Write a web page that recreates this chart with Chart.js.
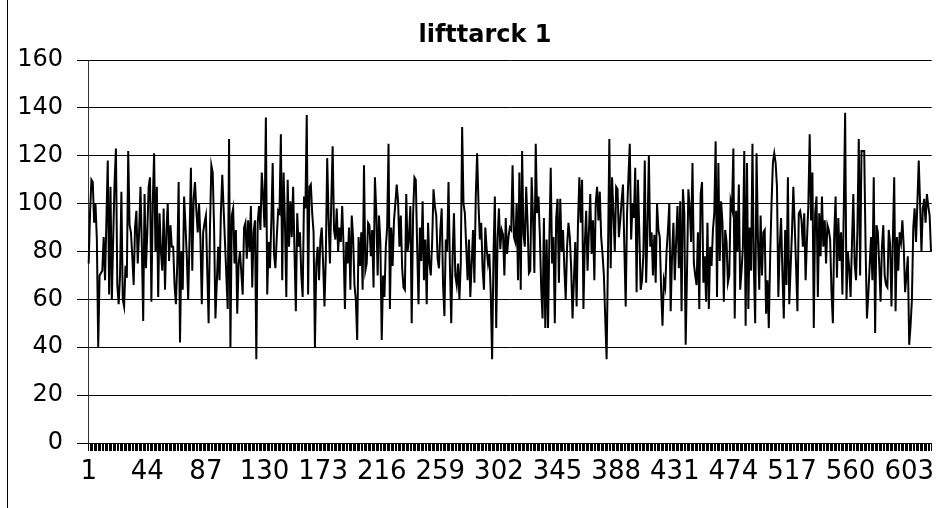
<!DOCTYPE html>
<html><head><meta charset="utf-8">
<script src="https://cdn.jsdelivr.net/npm/chart.js@4"></script>
<style>html,body{margin:0;padding:0;background:#fff;overflow:hidden}
#wrap{position:relative;width:937px;height:508px}
canvas{display:block}</style></head>
<body><div id="wrap"><canvas id="c" width="937" height="508"></canvas></div>
<script>
const chartTitle = 'lifttarck 1';
const liftValues = [
75,96,110,109,92,100,85,40,70,71,72,86,68,93,118,62,107,60,86,109,123,66,58,70,105,60,57,74,69,122,91,88,78,66,90,97,75,88,107,82,51,104,73,88,107,111,59,100,121,80,107,61,96,80,72,98,64,88,100,76,91,82,
82,66,58,75,109,42,80,64,103,91,78,60,85,115,72,102,109,97,88,100,85,58,88,92,95,72,50,90,116,113,90,52,67,82,68,96,112,98,84,70,56,127,40,95,98,75,89,54,75,80,71,62,90,92,77,93,80,99,65,88,93,35,
92,99,89,113,103,90,136,62,84,73,92,117,79,73,86,97,96,129,68,113,92,61,110,82,101,86,107,80,55,96,82,88,70,61,103,98,137,62,107,108,96,88,40,75,82,68,85,90,75,57,78,119,94,75,101,124,89,85,98,80,90,84,
99,82,56,84,75,90,64,95,86,66,60,43,86,74,88,64,116,72,75,92,91,78,89,65,111,97,70,95,84,43,70,61,82,90,125,56,90,74,93,100,108,101,82,95,73,65,64,104,80,86,99,50,95,111,110,82,58,90,76,101,68,85,
58,92,75,70,84,106,99,95,77,73,89,98,66,53,85,80,109,75,50,78,96,70,66,75,60,75,132,100,96,82,68,85,61,75,89,67,103,121,100,85,92,73,64,90,81,75,79,62,35,78,103,48,85,98,81,89,87,70,94,79,86,90,
89,116,86,84,100,68,113,64,122,87,82,107,92,71,72,111,94,71,125,96,103,87,65,52,94,48,85,48,85,115,75,86,50,94,102,67,102,80,89,73,60,82,92,86,73,52,68,84,57,92,111,92,110,56,83,97,72,88,104,79,93,68,
100,107,93,105,86,79,70,52,35,78,127,73,111,96,80,107,106,86,93,101,108,82,57,96,111,125,85,100,94,115,63,110,88,64,68,79,118,67,89,120,82,88,70,87,67,100,89,86,64,49,68,65,80,89,100,55,78,92,68,84,99,73,
101,55,106,96,41,72,106,98,84,117,75,70,66,88,56,104,109,67,78,59,92,56,82,74,89,96,126,61,117,76,101,92,59,89,84,67,70,101,98,123,52,97,80,108,64,72,82,122,49,117,56,90,72,125,74,50,121,86,64,95,70,88,
89,54,68,48,78,100,117,121,117,107,61,82,94,71,52,89,66,111,58,73,88,107,91,74,55,96,97,93,82,96,68,85,99,129,93,113,48,96,103,61,96,78,103,82,93,75,91,89,85,63,50,87,103,69,94,76,88,62,97,138,60,80,
73,61,83,104,75,68,89,127,70,122,122,122,82,52,62,74,86,68,111,46,91,88,75,59,82,91,70,66,65,89,83,57,85,111,55,86,72,88,84,93,82,63,70,78,41,49,60,90,98,84,100,118,100,80,98,102,92,104,99,95,80
];
const categories = liftValues.map((v, i) => String(i + 1));
const labelStep = 43;
const yMin = 0, yMax = 160, yStep = 20;

const deco = {
  id: 'deco',
  afterDraw(chart) {
    const ctx = chart.ctx;
    ctx.save();
    ctx.fillStyle = '#000';
    ctx.font = 'bold 24px "DejaVu Sans"';
    ctx.textAlign = 'center';
    ctx.textBaseline = 'middle';
    ctx.fillText(chartTitle, 485, 36);
    ctx.strokeStyle = '#000';
    ctx.lineWidth = 1;
    ctx.beginPath(); ctx.moveTo(7.5, 0); ctx.lineTo(7.5, 508); ctx.stroke();
    ctx.restore();
  }
};

new Chart(document.getElementById('c'), {
  type: 'line',
  data: {
    labels: categories,
    datasets: [{
      data: liftValues,
      borderColor: '#000',
      borderWidth: 2,
      pointRadius: 0,
      fill: false,
      tension: 0
    }]
  },
  options: {
    responsive: false,
    devicePixelRatio: 1,
    animation: false,
    layout: { padding: { top: 60, left: 0, right: 0, bottom: 0 } },
    plugins: { legend: { display: false }, title: { display: false }, tooltip: { enabled: false } },
    scales: {
      x: {
        offset: true,
        afterFit(s) { s.height = 65; },
        grid: { display: true, drawOnChartArea: false, drawTicks: true, tickLength: 8, color: '#000', lineWidth: 1 },
        border: { display: true, color: '#000', width: 1 },
        ticks: {
          autoSkip: false, maxRotation: 0, minRotation: 0, padding: 6,
          color: '#000', font: { family: 'DejaVu Sans', size: 26 },
          callback(val, idx) { return idx % labelStep === 0 ? categories[idx] : ''; }
        }
      },
      y: {
        min: yMin, max: yMax,
        afterFit(s) { s.width = 88; },
        grid: { color: '#000', lineWidth: 1, drawTicks: true, tickLength: 11 },
        border: { display: true, color: '#333', width: 1 },
        ticks: { stepSize: yStep, padding: 14, color: '#000', font: { family: 'DejaVu Sans', size: 24 } }
      }
    }
  },
  plugins: [deco]
});
</script>
</body></html>
